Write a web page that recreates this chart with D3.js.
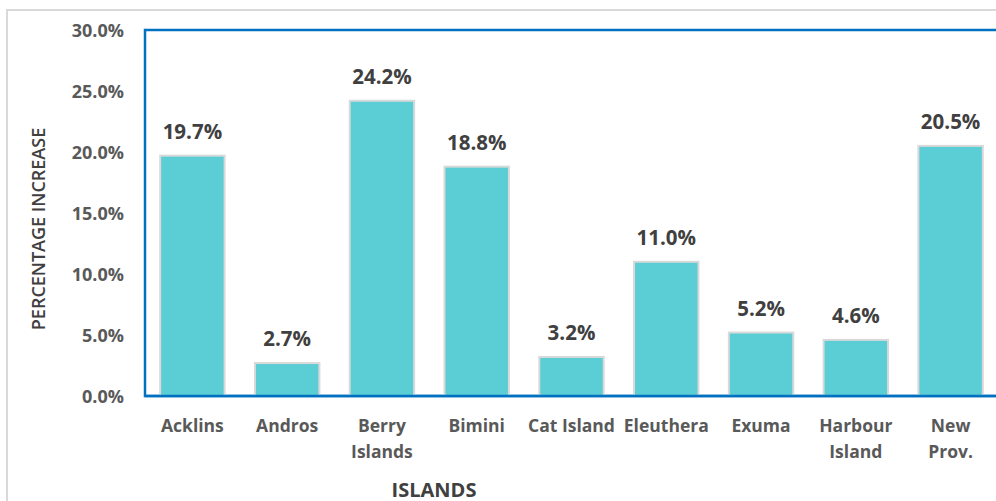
<!DOCTYPE html>
<html>
<head>
<meta charset="utf-8">
<script src="https://cdn.jsdelivr.net/npm/d3@7"></script>
<style>
body { margin: 0; background: #fff; }
text { font-family: "Open Sans", sans-serif; }
</style>
</head>
<body>
<div id="chart"></div>
<script>
// islands and their % increase
var islands = ["Acklins", "Andros", "Berry Islands", "Bimini", "Cat Island", "Eleuthera", "Exuma", "Harbour Island", "New Prov."];
var labelLines = [["Acklins"], ["Andros"], ["Berry", "Islands"], ["Bimini"], ["Cat Island"], ["Eleuthera"], ["Exuma"], ["Harbour", "Island"], ["New", "Prov."]];
var increase = [0.197, 0.027, 0.242, 0.188, 0.032, 0.110, 0.052, 0.046, 0.205];
var yTicks = [0, 0.05, 0.10, 0.15, 0.20, 0.25, 0.30];

var w = 996, h = 501;
var pl = 145, pt = 30, pr = 998, pb = 396;

var svg = d3.select("#chart").append("svg")
  .attr("width", w).attr("height", h);

// outer chart frame
svg.append("rect")
  .attr("x", 7).attr("y", 10)
  .attr("width", w + 20).attr("height", h + 20)
  .attr("fill", "none").attr("stroke", "#d9d9d9").attr("stroke-width", 2);

var x = d3.scaleBand().domain(islands).range([pl, pr]).paddingInner(0.32).paddingOuter(0.16);
var y = d3.scaleLinear().domain([0, 0.30]).range([pb, pt]);

// plot area border
svg.append("rect")
  .attr("x", pl).attr("y", pt)
  .attr("width", pr - pl).attr("height", pb - pt)
  .attr("fill", "none").attr("stroke", "#0070c0").attr("stroke-width", 2.5);

// y tick labels
var yAxis = d3.axisLeft(y).tickValues(yTicks).tickFormat(d3.format(".1%")).tickSize(0).tickPadding(21);
var ga = svg.append("g").attr("transform", "translate(" + pl + ",0)").call(yAxis);
ga.select(".domain").remove();
ga.selectAll("text")
  .attr("font-family", "Open Sans").attr("font-size", 18).attr("font-weight", 700)
  .attr("fill", "#595959").attr("dy", "0.36em");

// bars
svg.selectAll("rect.bar")
  .data(increase)
  .enter().append("rect")
  .attr("class", "bar")
  .attr("x", function(d, i) { return x(islands[i]); })
  .attr("y", function(d) { return y(d); })
  .attr("width", x.bandwidth())
  .attr("height", function(d) { return pb - y(d); })
  .attr("fill", "#5bcdd4")
  .attr("stroke", "#d9d9d9").attr("stroke-width", 2);

// redraw bottom axis line over bars
svg.append("line")
  .attr("x1", pl).attr("x2", pr).attr("y1", pb).attr("y2", pb)
  .attr("stroke", "#0070c0").attr("stroke-width", 2.5);

// value labels
svg.selectAll("text.val")
  .data(increase)
  .enter().append("text")
  .attr("class", "val")
  .attr("x", function(d, i) { return x(islands[i]) + x.bandwidth() / 2; })
  .attr("y", function(d) { return y(d) - 17; })
  .attr("text-anchor", "middle")
  .attr("font-size", 20.5).attr("font-weight", 700).attr("fill", "#404040")
  .text(d3.format(".1%"));

// category labels
var cat = svg.selectAll("text.cat")
  .data(labelLines)
  .enter().append("text")
  .attr("class", "cat")
  .attr("text-anchor", "middle")
  .attr("font-size", 17.5).attr("font-weight", 700).attr("fill", "#595959");
cat.each(function(lines, i) {
  var t = d3.select(this);
  lines.forEach(function(s, j) {
    t.append("tspan")
      .attr("x", x(islands[i]) + x.bandwidth() / 2)
      .attr("y", 431.5 + j * 26.5)
      .text(s);
  });
});

// axis titles
svg.append("text")
  .attr("x", 434).attr("y", 497)
  .attr("text-anchor", "middle")
  .attr("font-size", 20).attr("font-weight", 700).attr("fill", "#404040")
  .text("ISLANDS");

svg.append("text")
  .attr("transform", "translate(45,229) rotate(-90)")
  .attr("text-anchor", "middle")
  .attr("font-size", 18).attr("font-weight", 600).attr("fill", "#404040")
  .text("PERCENTAGE INCREASE");
</script>
</body>
</html>
